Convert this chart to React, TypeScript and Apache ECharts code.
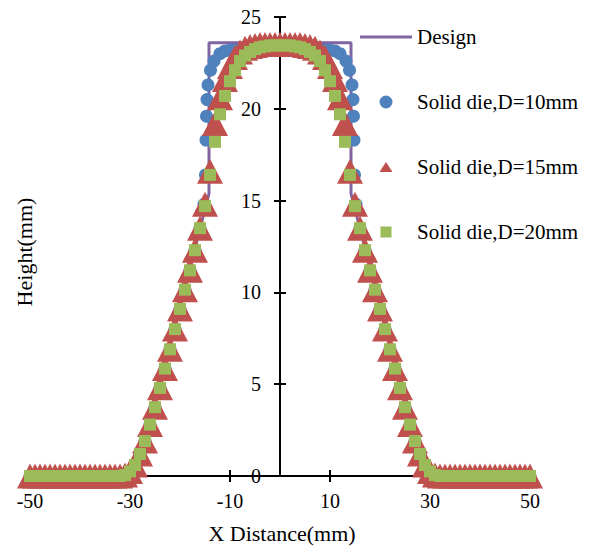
import React, { useEffect, useRef } from "react";
import * as echarts from "echarts";

const FONT = '"Liberation Serif", "Times New Roman", serif';

const seriesNames = ["Design", "Solid die,D=10mm", "Solid die,D=15mm", "Solid die,D=20mm"];
const seriesColors = ["#8064A2", "#4F81BD", "#C0504D", "#9BBB59"];

const xGrid = [
  -50, -49, -48, -47, -46, -45, -44, -43, -42, -41, -40, -39, -38, -37, -36, -35, -34, -33, -32,
  -31, -30, -29, -28, -27, -26, -25, -24, -23, -22, -21, -20, -19, -18, -17, -16, -15, -14, -13,
  -12, -11, -10, -9, -8, -7, -6, -5, -4, -3, -2, -1, 0, 1, 2, 3, 4, 5, 6, 7, 8, 9, 10, 11, 12, 13,
  14, 15, 16, 17, 18, 19, 20, 21, 22, 23, 24, 25, 26, 27, 28, 29, 30, 31, 32, 33, 34, 35, 36, 37,
  38, 39, 40, 41, 42, 43, 44, 45, 46, 47, 48, 49, 50,
];

const heightD20 = [
  0, 0, 0, 0, 0, 0, 0, 0, 0, 0, 0, 0, 0, 0, 0, 0, 0, 0, 0,
  0.05, 0.25, 0.6, 1.2, 1.9, 2.8, 3.75, 4.8, 5.85, 6.9, 8.0, 9.1, 10.15, 11.2, 12.3, 13.5, 14.7,
  16.4, 18.2, 19.7, 20.7, 21.5, 22.1, 22.6, 22.9, 23.1, 23.25, 23.35, 23.4, 23.45, 23.45, 23.45,
  23.45, 23.45, 23.4, 23.35, 23.25, 23.1, 22.9, 22.6, 22.1, 21.5, 20.7, 19.7, 18.2, 16.4,
  14.7, 13.5, 12.3, 11.2, 10.15, 9.1, 8.0, 6.9, 5.85, 4.8, 3.75, 2.8, 1.9, 1.2, 0.6, 0.25, 0.05,
  0, 0, 0, 0, 0, 0, 0, 0, 0, 0, 0, 0, 0, 0, 0, 0, 0, 0, 0,
];

const heightD15 = [
  0, 0, 0, 0, 0, 0, 0, 0, 0, 0, 0, 0, 0, 0, 0, 0, 0, 0, 0,
  0.05, 0.25, 0.6, 1.2, 1.9, 2.8, 3.75, 4.8, 5.85, 6.9, 8.0, 9.1, 10.15, 11.2, 12.3, 13.5, 14.8,
  16.6, 19.2, 20.6, 21.6, 22.3, 22.8, 23.1, 23.3, 23.4, 23.45, 23.5, 23.5, 23.5, 23.5, 23.5,
  23.5, 23.5, 23.5, 23.5, 23.45, 23.4, 23.3, 23.1, 22.8, 22.3, 21.6, 20.6, 19.2, 16.6,
  14.8, 13.5, 12.3, 11.2, 10.15, 9.1, 8.0, 6.9, 5.85, 4.8, 3.75, 2.8, 1.9, 1.2, 0.6, 0.25, 0.05,
  0, 0, 0, 0, 0, 0, 0, 0, 0, 0, 0, 0, 0, 0, 0, 0, 0, 0, 0,
];

const xD10 = [
  -50, -49, -48, -47, -46, -45, -44, -43, -42, -41, -40, -39, -38, -37, -36, -35, -34, -33, -32,
  -31, -30, -29, -28, -27, -26, -25, -24, -23, -22, -21, -20, -19, -18, -17, -16,
  -15.2, -14.9, -14.8, -14.7, -14.6, -14.4, -13.9, -13.2, -12.0, -11.0,
  -10, -9, -8, -7, -6, -5, -4, -3, -2, -1, 0, 1, 2, 3, 4, 5, 6, 7, 8, 9, 10,
  11.0, 12.0, 13.2, 13.9, 14.4, 14.6, 14.7, 14.8, 14.9, 15.2,
  16, 17, 18, 19, 20, 21, 22, 23, 24, 25, 26, 27, 28, 29, 30, 31,
  32, 33, 34, 35, 36, 37, 38, 39, 40, 41, 42, 43, 44, 45, 46, 47, 48, 49, 50,
];

const heightD10 = [
  0, 0, 0, 0, 0, 0, 0, 0, 0, 0, 0, 0, 0, 0, 0, 0, 0, 0, 0,
  0.05, 0.25, 0.6, 1.2, 1.9, 2.8, 3.75, 4.8, 5.85, 6.9, 8.0, 9.1, 10.15, 11.2, 12.3, 13.5,
  14.8, 16.4, 18.3, 19.6, 20.5, 21.3, 22.1, 22.6, 23.0, 23.15,
  23.2, 23.2, 23.2, 23.2, 23.2, 23.2, 23.2, 23.2, 23.2, 23.2, 23.2, 23.2, 23.2, 23.2, 23.2,
  23.2, 23.2, 23.2, 23.2, 23.2, 23.2,
  23.15, 23.0, 22.6, 22.1, 21.3, 20.5, 19.6, 18.3, 16.4, 14.8,
  13.5, 12.3, 11.2, 10.15, 9.1, 8.0, 6.9, 5.85, 4.8, 3.75, 2.8, 1.9, 1.2, 0.6, 0.25, 0.05,
  0, 0, 0, 0, 0, 0, 0, 0, 0, 0, 0, 0, 0, 0, 0, 0, 0, 0, 0,
];

const xDesign = [-50, -28.6, -14.2, -14.2, 14.2, 14.2, 28.6, 50];
const heightDesign = [0, 0, 15.4, 23.6, 23.6, 15.4, 0, 0];

const xAxisMin = -50;
const xAxisMax = 50;
const xAxisStep = 20;
const yAxisMin = 0;
const yAxisMax = 25;
const yAxisStep = 5;

const xTitle = "X Distance(mm)";
const yTitle = "Height(mm)";

// legend icons: bounding box kept at 52x13 so that icons are drawn at their own size
const iconDesign = "path://M0,0h0.01M51.99,13h0.01M0,5H52V8H0Z";
const iconCircle = "path://M0,0h0.01M51.99,13h0.01M19.5,6.5A6.5,6.5 0 1 1 32.5,6.5A6.5,6.5 0 1 1 19.5,6.5Z";
const iconTriangle = "path://M0,0h0.01M51.99,13h0.01M26,1.5L32.5,11.5L19.5,11.5Z";
const iconSquare = "path://M0,0h0.01M51.99,13h0.01M20.5,1H31.5V12H20.5Z";

export default function App() {
  const ref = useRef<HTMLDivElement>(null);

  useEffect(() => {
    if (!ref.current) return;
    const chart = echarts.init(ref.current, undefined, { renderer: "svg" });

    const pairs = (xs: number[], ys: number[]) => xs.map((x, i) => [x, ys[i]]);

    const tick = { show: true, inside: false, length: 6, lineStyle: { color: "#000", width: 2 } };
    const labelStyle = { color: "#000", fontFamily: FONT, fontSize: 20 };

    const option: any = {
      animation: false,
      backgroundColor: "#fff",
      grid: { left: 30, right: 61, top: 17, bottom: 70, containLabel: false, outerBoundsMode: "none" },
      xAxis: [
        {
          type: "value",
          position: "bottom",
          min: xAxisMin,
          max: xAxisMax,
          interval: xAxisStep,
          axisLine: { show: true, onZero: false, lineStyle: { color: "#000", width: 2 } },
          axisTick: tick,
          axisLabel: { ...labelStyle, margin: 15, showMinLabel: true, showMaxLabel: true },
          splitLine: { show: false },
        },
        {
          type: "value",
          position: "top",
          min: xAxisMin,
          max: xAxisMax,
          interval: xAxisStep,
          offset: -459,
          axisLine: { show: false, onZero: false },
          axisTick: tick,
          axisLabel: { show: false },
          splitLine: { show: false },
        },
      ],
      yAxis: [
        {
          type: "value",
          position: "left",
          min: yAxisMin,
          max: yAxisMax,
          interval: yAxisStep,
          offset: -250,
          axisLine: { show: true, onZero: false, lineStyle: { color: "#000", width: 2 } },
          axisTick: tick,
          axisLabel: { ...labelStyle, margin: 19 },
          splitLine: { show: false },
        },
        {
          type: "value",
          position: "right",
          min: yAxisMin,
          max: yAxisMax,
          interval: yAxisStep,
          offset: -250,
          axisLine: { show: false, onZero: false },
          axisTick: tick,
          axisLabel: { show: false },
          splitLine: { show: false },
        },
      ],
      legend: {
        orient: "vertical",
        left: 355,
        top: 20,
        itemWidth: 52,
        itemHeight: 13,
        itemGap: 41,
        symbolKeepAspect: true,
        textStyle: { color: "#000", fontFamily: FONT, fontSize: 21, lineHeight: 24 },
        data: [
          { name: seriesNames[0], icon: iconDesign, itemStyle: { borderWidth: 0 }, lineStyle: { width: 0 } },
          { name: seriesNames[1], icon: iconCircle, itemStyle: { borderWidth: 0 } },
          { name: seriesNames[2], icon: iconTriangle, itemStyle: { borderWidth: 0 } },
          { name: seriesNames[3], icon: iconSquare, itemStyle: { borderWidth: 0 } },
        ],
      },
      graphic: [
        {
          type: "text",
          x: 282,
          y: 533,
          style: {
            text: xTitle,
            fill: "#000",
            font: `22px ${FONT}`,
            textAlign: "center",
            textVerticalAlign: "middle",
          },
        },
        {
          type: "text",
          x: 24,
          y: 252,
          rotation: Math.PI / 2,
          style: {
            text: yTitle,
            fill: "#000",
            font: `22px ${FONT}`,
            textAlign: "center",
            textVerticalAlign: "middle",
          },
        },
      ],
      series: [
        {
          name: seriesNames[0],
          type: "line",
          data: pairs(xDesign, heightDesign),
          symbol: "none",
          color: seriesColors[0],
          lineStyle: { color: seriesColors[0], width: 3 },
          z: 1,
        },
        {
          name: seriesNames[1],
          type: "scatter",
          data: pairs(xD10, heightD10),
          symbol: "circle",
          symbolSize: 13,
          itemStyle: { color: seriesColors[1], opacity: 1 },
          z: 2,
        },
        {
          name: seriesNames[2],
          type: "scatter",
          data: pairs(xGrid, heightD15),
          symbol: "triangle",
          symbolSize: [26, 25],
          itemStyle: { color: seriesColors[2], opacity: 1 },
          z: 3,
        },
        {
          name: seriesNames[3],
          type: "scatter",
          data: pairs(xGrid, heightD20),
          symbol: "rect",
          symbolSize: 12,
          itemStyle: { color: seriesColors[3], opacity: 1 },
          z: 4,
        },
      ],
    };

    chart.setOption(option);
    return () => chart.dispose();
  }, []);

  return (
    <div
      ref={ref}
      style={{ position: "fixed", left: 0, top: 0, width: 591, height: 546, background: "#fff" }}
    />
  );
}
